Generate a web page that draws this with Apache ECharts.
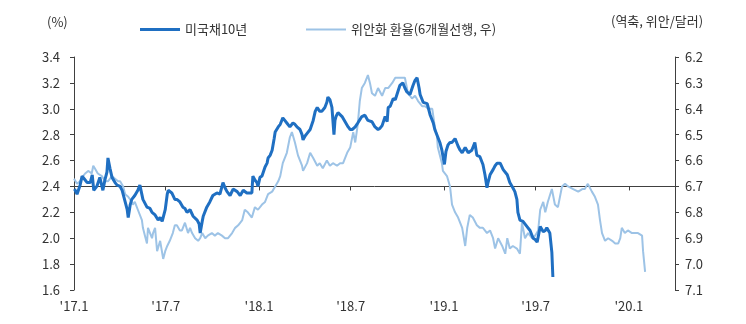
<!DOCTYPE html>
<html>
<head>
<meta charset="utf-8">
<script src="https://cdn.jsdelivr.net/npm/echarts@6/dist/echarts.min.js"></script>
<style>
html,body{margin:0;padding:0;background:#fff;}
#chart{width:746px;height:324px;}
</style>
</head>
<body>
<div id="chart"></div>
<script>
// ---- data ----
const seriesNames = ['미국채10년', '위안화 환율(6개월선행, 우)'];
const leftUnit = '(%)';
const rightUnit = '(역축, 위안/달러)';

const xTickDates = ['2017-01-01','2017-07-01','2018-01-01','2018-07-01','2019-01-01','2019-07-01','2020-01-01'];
const xTickLabels = ["'17.1","'17.7","'18.1","'18.7","'19.1","'19.7","'20.1"];
const xRange = ['2017-01-01', '2020-04-01'];

const ust10yDates = ['2017-01-02','2017-01-07','2017-01-13','2017-01-17','2017-01-23','2017-01-27','2017-02-02','2017-02-06','2017-02-09','2017-02-15','2017-02-21','2017-02-27','2017-03-03','2017-03-07','2017-03-09','2017-03-13','2017-03-17','2017-03-23','2017-03-27','2017-04-02','2017-04-06','2017-04-12','2017-04-16','2017-04-18','2017-04-22','2017-04-25','2017-05-01','2017-05-07','2017-05-11','2017-05-17','2017-05-25','2017-05-31','2017-06-04','2017-06-10','2017-06-16','2017-06-20','2017-06-24','2017-06-30','2017-07-04','2017-07-06','2017-07-09','2017-07-13','2017-07-19','2017-07-23','2017-07-29','2017-08-04','2017-08-08','2017-08-12','2017-08-18','2017-08-24','2017-09-01','2017-09-05','2017-09-07','2017-09-11','2017-09-13','2017-09-20','2017-09-26','2017-10-02','2017-10-10','2017-10-16','2017-10-22','2017-10-26','2017-10-30','2017-11-05','2017-11-11','2017-11-19','2017-11-25','2017-12-01','2017-12-04','2017-12-08','2017-12-14','2017-12-18','2017-12-20','2017-12-24','2017-12-28','2017-12-30','2018-01-03','2018-01-07','2018-01-13','2018-01-17','2018-01-19','2018-01-23','2018-01-27','2018-01-31','2018-02-02','2018-02-08','2018-02-12','2018-02-15','2018-02-17','2018-02-21','2018-02-25','2018-03-03','2018-03-09','2018-03-13','2018-03-17','2018-03-23','2018-03-27','2018-03-29','2018-04-02','2018-04-06','2018-04-12','2018-04-18','2018-04-22','2018-04-26','2018-05-01','2018-05-05','2018-05-11','2018-05-15','2018-05-17','2018-05-21','2018-05-25','2018-05-29','2018-05-31','2018-06-02','2018-06-06','2018-06-14','2018-06-20','2018-06-26','2018-06-30','2018-07-04','2018-07-10','2018-07-15','2018-07-23','2018-07-29','2018-08-04','2018-08-12','2018-08-18','2018-08-24','2018-08-28','2018-09-01','2018-09-07','2018-09-11','2018-09-13','2018-09-17','2018-09-23','2018-09-27','2018-09-30','2018-10-06','2018-10-12','2018-10-16','2018-10-20','2018-10-26','2018-11-01','2018-11-05','2018-11-09','2018-11-13','2018-11-15','2018-11-21','2018-11-29','2018-12-05','2018-12-11','2018-12-14','2018-12-20','2018-12-24','2018-12-28','2019-01-02','2019-01-05','2019-01-09','2019-01-13','2019-01-17','2019-01-23','2019-01-29','2019-02-02','2019-02-06','2019-02-12','2019-02-18','2019-02-21','2019-02-25','2019-03-03','2019-03-07','2019-03-13','2019-03-19','2019-03-23','2019-03-27','2019-03-29','2019-04-02','2019-04-08','2019-04-12','2019-04-16','2019-04-22','2019-04-28','2019-05-06','2019-05-11','2019-05-17','2019-05-21','2019-05-25','2019-05-27','2019-05-31','2019-06-06','2019-06-14','2019-06-20','2019-06-26','2019-06-30','2019-07-04','2019-07-10','2019-07-16','2019-07-20','2019-07-23','2019-07-29','2019-08-02','2019-08-04'];
const ust10yValues = [2.38,2.34,2.41,2.48,2.45,2.43,2.43,2.49,2.37,2.40,2.47,2.37,2.45,2.51,2.62,2.54,2.47,2.43,2.41,2.40,2.37,2.28,2.22,2.16,2.26,2.30,2.33,2.37,2.41,2.30,2.24,2.23,2.20,2.18,2.14,2.16,2.13,2.22,2.34,2.37,2.37,2.35,2.30,2.30,2.28,2.24,2.23,2.20,2.22,2.17,2.14,2.11,2.04,2.13,2.17,2.24,2.28,2.33,2.35,2.34,2.43,2.39,2.36,2.33,2.38,2.36,2.33,2.37,2.37,2.35,2.35,2.35,2.48,2.45,2.43,2.40,2.47,2.48,2.55,2.58,2.62,2.64,2.68,2.77,2.82,2.86,2.88,2.91,2.93,2.91,2.89,2.86,2.89,2.88,2.86,2.84,2.80,2.76,2.79,2.81,2.84,2.91,2.98,3.01,2.98,2.98,3.01,3.05,3.09,3.07,3.01,2.80,2.91,2.94,2.97,2.94,2.90,2.86,2.84,2.84,2.86,2.89,2.94,2.95,2.91,2.90,2.86,2.84,2.85,2.87,2.94,2.90,3.01,3.02,3.08,3.07,3.07,3.18,3.20,3.16,3.13,3.11,3.18,3.22,3.24,3.16,3.11,3.05,3.04,2.95,2.89,2.84,2.78,2.74,2.68,2.57,2.67,2.72,2.74,2.74,2.77,2.71,2.68,2.66,2.70,2.66,2.67,2.68,2.74,2.64,2.63,2.57,2.49,2.39,2.43,2.49,2.53,2.56,2.58,2.58,2.53,2.49,2.43,2.39,2.36,2.30,2.20,2.14,2.13,2.09,2.06,2.00,1.99,1.97,2.09,2.05,2.06,2.08,2.04,1.89,1.70];

const cnyDates = ['2017-01-01','2017-01-07','2017-01-13','2017-01-19','2017-01-23','2017-01-29','2017-02-05','2017-02-08','2017-02-11','2017-02-17','2017-02-25','2017-03-03','2017-03-09','2017-03-17','2017-03-23','2017-03-29','2017-04-02','2017-04-08','2017-04-12','2017-04-18','2017-04-25','2017-04-27','2017-05-01','2017-05-07','2017-05-15','2017-05-17','2017-05-21','2017-05-25','2017-05-27','2017-05-31','2017-06-04','2017-06-06','2017-06-10','2017-06-14','2017-06-20','2017-06-26','2017-06-30','2017-07-04','2017-07-09','2017-07-15','2017-07-19','2017-07-23','2017-07-29','2017-08-02','2017-08-08','2017-08-14','2017-08-18','2017-08-22','2017-08-28','2017-09-03','2017-09-07','2017-09-11','2017-09-17','2017-09-22','2017-09-30','2017-10-06','2017-10-12','2017-10-20','2017-10-26','2017-11-01','2017-11-09','2017-11-15','2017-11-21','2017-11-29','2017-12-04','2017-12-10','2017-12-18','2017-12-24','2017-12-30','2018-01-07','2018-01-13','2018-01-19','2018-01-27','2018-02-02','2018-02-08','2018-02-12','2018-02-17','2018-02-25','2018-03-03','2018-03-07','2018-03-13','2018-03-19','2018-03-27','2018-03-29','2018-04-06','2018-04-12','2018-04-18','2018-04-26','2018-05-01','2018-05-07','2018-05-15','2018-05-21','2018-05-27','2018-06-04','2018-06-10','2018-06-16','2018-06-24','2018-06-30','2018-07-06','2018-07-10','2018-07-15','2018-07-19','2018-07-23','2018-07-29','2018-08-04','2018-08-08','2018-08-12','2018-08-18','2018-08-24','2018-09-01','2018-09-07','2018-09-13','2018-09-21','2018-09-27','2018-10-02','2018-10-10','2018-10-16','2018-10-22','2018-10-30','2018-11-05','2018-11-11','2018-11-19','2018-11-25','2018-12-01','2018-12-09','2018-12-14','2018-12-18','2018-12-20','2018-12-28','2018-12-30','2019-01-07','2019-01-13','2019-01-17','2019-01-23','2019-01-29','2019-02-06','2019-02-12','2019-02-16','2019-02-21','2019-02-27','2019-03-07','2019-03-13','2019-03-19','2019-03-27','2019-04-02','2019-04-08','2019-04-12','2019-04-18','2019-04-26','2019-05-02','2019-05-06','2019-05-11','2019-05-17','2019-05-25','2019-05-31','2019-06-04','2019-06-10','2019-06-16','2019-06-24','2019-06-30','2019-07-06','2019-07-10','2019-07-16','2019-07-20','2019-07-25','2019-08-02','2019-08-08','2019-08-14','2019-08-22','2019-08-28','2019-09-03','2019-09-13','2019-09-23','2019-10-01','2019-10-06','2019-10-12','2019-10-20','2019-10-26','2019-11-01','2019-11-05','2019-11-09','2019-11-15','2019-11-21','2019-11-29','2019-12-05','2019-12-11','2019-12-15','2019-12-18','2019-12-24','2019-12-30','2020-01-07','2020-01-13','2020-01-19','2020-01-27','2020-01-29','2020-02-02'];
const cnyValues = [6.67,6.69,6.68,6.66,6.65,6.64,6.65,6.62,6.63,6.65,6.66,6.68,6.68,6.66,6.67,6.68,6.68,6.70,6.73,6.74,6.76,6.77,6.76,6.79,6.83,6.86,6.89,6.92,6.86,6.88,6.90,6.88,6.86,6.95,6.91,6.98,6.95,6.93,6.91,6.88,6.85,6.85,6.87,6.87,6.84,6.88,6.86,6.88,6.90,6.91,6.90,6.88,6.90,6.89,6.88,6.89,6.88,6.89,6.90,6.90,6.88,6.86,6.85,6.83,6.79,6.80,6.82,6.78,6.79,6.77,6.76,6.73,6.72,6.70,6.68,6.66,6.61,6.57,6.51,6.49,6.53,6.58,6.62,6.64,6.61,6.57,6.59,6.62,6.61,6.63,6.60,6.62,6.61,6.62,6.61,6.61,6.57,6.55,6.49,6.53,6.46,6.37,6.32,6.30,6.27,6.30,6.34,6.35,6.32,6.35,6.32,6.32,6.30,6.28,6.28,6.28,6.28,6.34,6.36,6.35,6.37,6.39,6.39,6.40,6.40,6.47,6.50,6.55,6.61,6.64,6.66,6.70,6.77,6.80,6.82,6.86,6.93,6.86,6.81,6.82,6.85,6.86,6.86,6.88,6.87,6.90,6.94,6.90,6.93,6.96,6.90,6.94,6.93,6.94,6.96,6.84,6.90,6.88,6.90,6.89,6.87,6.79,6.76,6.80,6.76,6.71,6.77,6.78,6.70,6.69,6.70,6.71,6.72,6.71,6.71,6.69,6.72,6.74,6.77,6.83,6.88,6.91,6.90,6.91,6.92,6.92,6.90,6.86,6.88,6.87,6.88,6.88,6.88,6.89,6.95,7.03];

const leftAxis = {min: 1.6, max: 3.4, interval: 0.2};
const rightAxis = {min: 6.2, max: 7.1, interval: 0.1};
const crossLevel = 2.4; // level where the date axis line crosses

// ---- helpers ----
function ts(s) { const p = s.split('-'); return new Date(+p[0], +p[1] - 1, +p[2]).getTime(); }
function pairs(dates, vals) { return dates.map((d, i) => [ts(d), vals[i]]); }
const tickTs = xTickDates.map(ts);

const FONT = '"Noto Sans CJK KR", "Noto Sans", sans-serif';
const TXT = '#333333';
const AX = '#404040';

const grid = {left: 74, right: 71, top: 57, bottom: 34};
const gridH = 324 - grid.top - grid.bottom;
const crossOffset = -(crossLevel - leftAxis.min) / (leftAxis.max - leftAxis.min) * gridH;

const chart = echarts.init(document.getElementById('chart'), null, {renderer: 'canvas'});
chart.setOption({
  animation: false,
  textStyle: {fontFamily: FONT},
  grid: Object.assign({outerBoundsMode: 'none', containLabel: false}, grid),
  legend: [
    {data: [seriesNames[0]], left: 140, top: 23, icon: 'rect', itemWidth: 40, itemHeight: 3,
     textStyle: {fontSize: 13, color: TXT, fontFamily: FONT}, padding: 0},
    {data: [seriesNames[1]], left: 306, top: 23, icon: 'rect', itemWidth: 40, itemHeight: 2,
     textStyle: {fontSize: 13, color: TXT, fontFamily: FONT}, padding: 0}
  ],
  graphic: [
    {type: 'text', left: 47, top: 16, style: {text: leftUnit, font: '13px ' + FONT, fill: TXT}},
    {type: 'text', left: 611, top: 15, style: {text: rightUnit, font: '13px ' + FONT, fill: TXT}}
  ],
  xAxis: [
    {
      type: 'value', min: ts(xRange[0]), max: ts(xRange[1]), position: 'bottom',
      axisLine: {show: false, onZero: false}, axisTick: {show: false}, splitLine: {show: false},
      axisLabel: {
        customValues: tickTs, margin: 10, fontSize: 13, color: TXT, fontFamily: FONT,
        hideOverlap: false,
        formatter: function (v) { const i = tickTs.indexOf(v); return i >= 0 ? xTickLabels[i] : ''; }
      }
    },
    {
      type: 'value', min: ts(xRange[0]), max: ts(xRange[1]), position: 'bottom', offset: crossOffset,
      axisLine: {show: true, onZero: false, lineStyle: {color: AX, width: 1}},
      axisTick: {show: true, customValues: tickTs, length: 4, lineStyle: {color: AX, width: 1}},
      axisLabel: {show: false}, splitLine: {show: false}
    }
  ],
  yAxis: [
    {
      type: 'value', position: 'left', min: leftAxis.min, max: leftAxis.max, interval: leftAxis.interval,
      axisLine: {show: true, lineStyle: {color: AX, width: 1}},
      axisTick: {show: true, length: 4, lineStyle: {color: AX}},
      axisLabel: {margin: 14, fontSize: 13, color: TXT, fontFamily: FONT, formatter: v => v.toFixed(1)},
      splitLine: {show: false}
    },
    {
      type: 'value', position: 'right', inverse: true, min: rightAxis.min, max: rightAxis.max, interval: rightAxis.interval,
      axisLine: {show: true, lineStyle: {color: AX, width: 1}},
      axisTick: {show: true, length: 4, lineStyle: {color: AX}},
      axisLabel: {margin: 10, fontSize: 13, color: TXT, fontFamily: FONT, formatter: v => v.toFixed(1)},
      splitLine: {show: false}
    }
  ],
  series: [
    {
      name: seriesNames[1], type: 'line', xAxisIndex: 0, yAxisIndex: 1,
      data: pairs(cnyDates, cnyValues), showSymbol: false, symbol: 'none',
      lineStyle: {color: '#9DC3E6', width: 2}, itemStyle: {color: '#9DC3E6'}, z: 2
    },
    {
      name: seriesNames[0], type: 'line', xAxisIndex: 0, yAxisIndex: 0,
      data: pairs(ust10yDates, ust10yValues), showSymbol: false, symbol: 'none',
      lineStyle: {color: '#1F6FC2', width: 3}, itemStyle: {color: '#1F6FC2'}, z: 3
    }
  ]
});
</script>
</body>
</html>
